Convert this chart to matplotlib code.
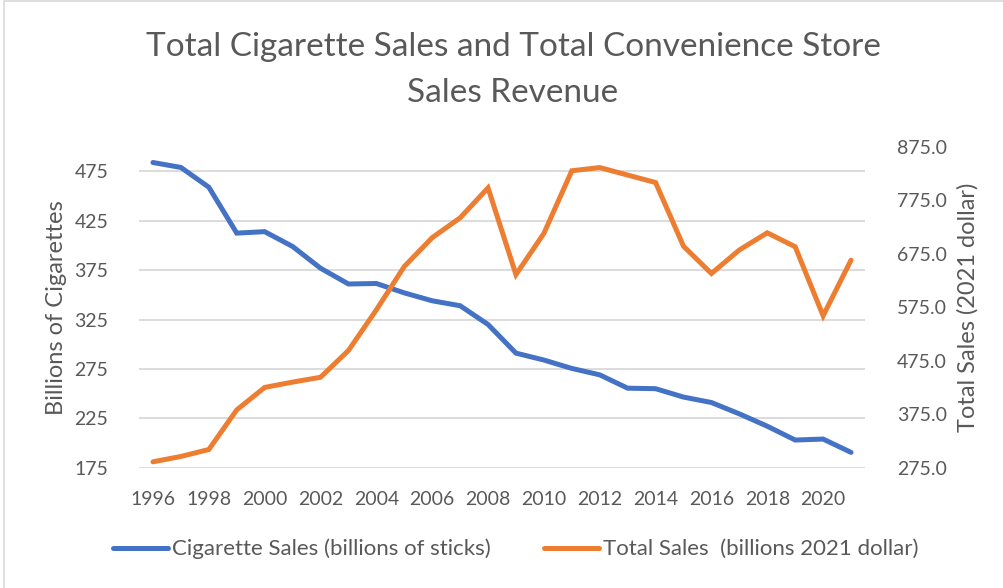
import matplotlib
matplotlib.use("Agg")
import matplotlib.pyplot as plt
from matplotlib.patches import Rectangle

plt.rcParams['font.family'] = ['Lato', 'DejaVu Sans']

years = list(range(1996, 2022))
cigarette_sales = [484, 479, 459, 412.5, 414, 399, 377, 361, 361.5, 352, 344, 339,
                   320, 291, 284, 275.5, 269, 255.5, 255, 246.5, 241, 229.5, 217,
                   203, 204, 190.5]
total_sales = [286, 296, 309, 383, 425, 435, 444, 494, 570, 651, 705, 742, 798,
               636, 713, 830, 836, 822, 808, 689, 638, 682, 714, 688, 559, 663]
year_ticks = list(range(1996, 2021, 2))
left_ticks = list(range(175, 476, 50))
right_ticks = list(range(275, 876, 100))

BLUE = '#4472C4'
ORANGE = '#ED7D31'
GREY = '#595959'

fig = plt.figure(figsize=(10.04, 5.88), dpi=100)
ax = fig.add_axes([139 / 1004, 1 - 467.7 / 588, 726 / 1004, 321 / 588])
ax2 = ax.twinx()

for y in left_ticks:
    ax.axhline(y, color='#D9D9D9', linewidth=1.3, zorder=0)

line_cig, = ax.plot(years, cigarette_sales, color=BLUE, linewidth=3.6,
                    solid_capstyle='round', solid_joinstyle='miter',
                    label='Cigarette Sales (billions of sticks)')
line_tot, = ax2.plot(years, total_sales, color=ORANGE, linewidth=3.6,
                     solid_capstyle='round', solid_joinstyle='miter',
                     label='Total Sales  (billions 2021 dollar)')

ax.set_xlim(1995.5, 2021.5)
ax.set_ylim(175, 500)
ax2.set_ylim(275, 875)
ax.set_xticks(year_ticks)
ax.set_yticks(left_ticks)
ax2.set_yticks(right_ticks)
ax2.set_yticklabels([f'{v:.1f}' for v in right_ticks])

for a in (ax, ax2):
    for s in a.spines.values():
        s.set_visible(False)
    a.tick_params(length=0, labelsize=14, colors=GREY)
ax.tick_params(axis='y', pad=22)
ax2.tick_params(axis='y', pad=23)
ax.tick_params(axis='x', pad=17)

ax.set_ylabel('Billions of Cigarettes', fontsize=17, color=GREY)
ax2.set_ylabel('Total Sales (2021 dollar)', fontsize=17, color=GREY, rotation=90)
ax.yaxis.set_label_coords(57 / 1004, 1 - 307.5 / 588, transform=fig.transFigure)
ax2.yaxis.set_label_coords(968 / 1004, 1 - 307.5 / 588, transform=fig.transFigure)
ax.yaxis.label.set_va('center')
ax2.yaxis.label.set_va('center')

fig.text(0.511, 1 - 47 / 588, 'Total Cigarette Sales and Total Convenience Store',
         ha='center', va='center', fontsize=24, color=GREY)
fig.text(0.511, 1 - 93 / 588, 'Sales Revenue',
         ha='center', va='center', fontsize=24, color=GREY)

handles = [line_cig, line_tot]
fig.legend(handles, [h.get_label() for h in handles], loc='center',
           bbox_to_anchor=(0.5135, 1 - 549 / 588), ncol=2, frameon=False,
           fontsize=16, handlelength=2.5, handletextpad=0.15, columnspacing=2.4,
           labelcolor=GREY, borderpad=0, borderaxespad=0)

# chart area border
fig.patches.append(Rectangle((4 / 1004, -0.01), 1.05, 1 - 1 / 588 + 0.01,
                             transform=fig.transFigure, fill=False,
                             edgecolor='#D9D9D9', linewidth=1.2))

fig.savefig('out.png', dpi=100)
